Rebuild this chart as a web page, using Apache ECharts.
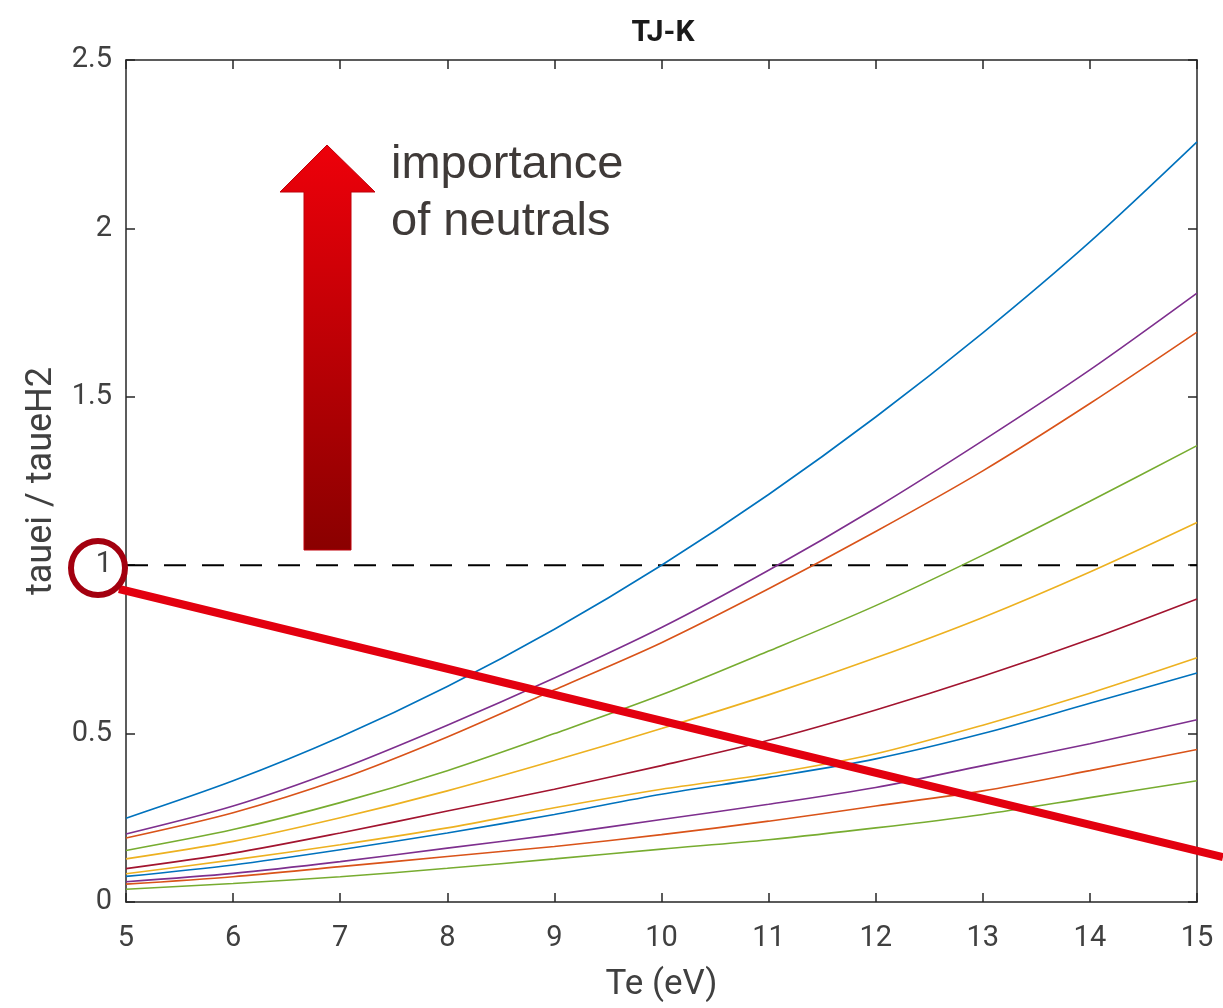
<!DOCTYPE html>
<html>
<head>
<meta charset="utf-8">
<script src="https://cdn.jsdelivr.net/npm/echarts@6/dist/echarts.min.js"></script>
<style>
  html, body { margin: 0; padding: 0; background: #ffffff; }
  #chart { width: 1223px; height: 1008px; }
</style>
</head>
<body>
<div id="chart"></div>
<script>
// Electron temperature samples (eV)
const te = [5, 6, 7, 8, 9, 10, 11, 12, 13, 14, 15];

// tauei / taueH2 curves, listed from the highest curve to the lowest
const curve01 = [0.249, 0.36, 0.49, 0.64, 0.81, 1.00, 1.21, 1.44, 1.69, 1.96, 2.257];
const curve02 = [0.202, 0.285, 0.395, 0.525, 0.665, 0.815, 0.985, 1.17, 1.37, 1.58, 1.808];
const curve03 = [0.19, 0.265, 0.365, 0.49, 0.63, 0.77, 0.93, 1.10, 1.28, 1.48, 1.692];
const curve04 = [0.153, 0.215, 0.295, 0.39, 0.50, 0.615, 0.745, 0.88, 1.03, 1.19, 1.355];
const curve05 = [0.128, 0.18, 0.25, 0.33, 0.42, 0.515, 0.615, 0.725, 0.845, 0.98, 1.127];
const curve06 = [0.099, 0.145, 0.205, 0.27, 0.335, 0.405, 0.48, 0.57, 0.67, 0.78, 0.90];
const curve07 = [0.084, 0.125, 0.17, 0.22, 0.28, 0.335, 0.38, 0.44, 0.525, 0.62, 0.725];
const curve08 = [0.076, 0.11, 0.155, 0.205, 0.26, 0.32, 0.37, 0.425, 0.50, 0.59, 0.68];
const curve09 = [0.06, 0.085, 0.12, 0.16, 0.20, 0.245, 0.29, 0.34, 0.405, 0.47, 0.541];
const curve10 = [0.053, 0.075, 0.105, 0.135, 0.165, 0.20, 0.24, 0.285, 0.33, 0.39, 0.453];
const curve11 = [0.038, 0.055, 0.075, 0.10, 0.128, 0.157, 0.185, 0.22, 0.26, 0.31, 0.36];

const curves = [curve01, curve02, curve03, curve04, curve05, curve06,
                curve07, curve08, curve09, curve10, curve11];
const curveColors = ['#0072BD', '#7E2F8E', '#D95319', '#77AC30', '#EDB120', '#A2142F',
                     '#EDB120', '#0072BD', '#7E2F8E', '#D95319', '#77AC30'];

// Reference level tauei = taueH2
const thresholdValue = 1;

const xTicks = { min: 5, max: 15, interval: 1 };
const yTicks = { min: 0, max: 2.5, interval: 0.5 };

const axisColor = '#262626';
const labelColor = '#404040';
const axisFont = 'Roboto, "Liberation Sans", sans-serif';

function boxAxis(range, position, withLabels, labelMargin) {
  return {
    type: 'value',
    position: position,
    min: range.min,
    max: range.max,
    interval: range.interval,
    axisLine: { show: true, onZero: false, lineStyle: { color: axisColor, width: 1.5 } },
    axisTick: { show: true, inside: true, length: 9, lineStyle: { color: axisColor, width: 1.5 } },
    axisLabel: withLabels
      ? { show: true, color: labelColor, fontSize: 29, fontFamily: axisFont, margin: labelMargin }
      : { show: false },
    splitLine: { show: false }
  };
}

const xMain = Object.assign(boxAxis(xTicks, 'bottom', true, 22), {
  name: 'Te (eV)', nameLocation: 'middle', nameGap: 66,
  nameTextStyle: { color: labelColor, fontSize: 35, fontFamily: axisFont }
});
const yMain = Object.assign(boxAxis(yTicks, 'left', true, 14), {
  name: 'tauei / taueH2', nameLocation: 'middle', nameGap: 66,
  nameTextStyle: { color: labelColor, fontSize: 36, fontFamily: axisFont }
});

const series = curves.map((vals, i) => ({
  type: 'line',
  name: 'curve' + (i + 1),
  data: te.map((t, k) => [t, vals[k]]),
  showSymbol: false,
  smooth: 0.3,
  lineStyle: { color: curveColors[i], width: 1.6 },
  itemStyle: { color: curveColors[i] },
  silent: true,
  z: 3
}));

series.push({
  type: 'line',
  name: 'threshold',
  data: [[xTicks.min, thresholdValue], [xTicks.max, thresholdValue]],
  showSymbol: false,
  lineStyle: { color: '#000000', width: 2, type: [22, 16] },
  silent: true,
  z: 2
});

const chart = echarts.init(document.getElementById('chart'), null, { renderer: 'canvas' });

chart.setOption({
  backgroundColor: '#ffffff',
  animation: false,
  title: {
    text: 'TJ-K',
    left: 658,
    top: 13,
    textAlign: 'center',
    textStyle: { color: '#1a1a1a', fontSize: 30, fontWeight: 'bold', fontFamily: axisFont }
  },
  grid: { left: 126, right: 26, top: 60, bottom: 103, containLabel: false },
  xAxis: [xMain, boxAxis(xTicks, 'top', false, 0)],
  yAxis: [yMain, boxAxis(yTicks, 'right', false, 0)],
  series: series,
  graphic: [
    // upward arrow: "importance of neutrals"
    {
      type: 'polygon',
      z: 20,
      shape: {
        points: [[327, 145], [375, 192], [351, 192], [351, 550], [304, 550], [304, 192], [280, 192]]
      },
      style: {
        fill: new echarts.graphic.LinearGradient(0, 0, 0, 1, [
          { offset: 0, color: '#ee000a' },
          { offset: 1, color: '#8a0000' }
        ]),
        stroke: '#c0000a',
        lineWidth: 1
      }
    },
    {
      type: 'text',
      z: 20,
      left: 391,
      top: 137,
      style: {
        text: 'importance\nof neutrals',
        fill: '#3f3a38',
        font: '47px "Liberation Sans", Arial, sans-serif',
        lineHeight: 57
      }
    },
    // ring around the unit level and the slanted marker line
    {
      type: 'circle',
      z: 21,
      shape: { cx: 98, cy: 568, r: 27 },
      style: { fill: 'none', stroke: '#a3000f', lineWidth: 6 }
    },
    {
      type: 'line',
      z: 20,
      shape: { x1: 119, y1: 589, x2: 1223, y2: 857 },
      style: { stroke: '#e3000f', lineWidth: 8 }
    }
  ]
});
</script>
</body>
</html>
